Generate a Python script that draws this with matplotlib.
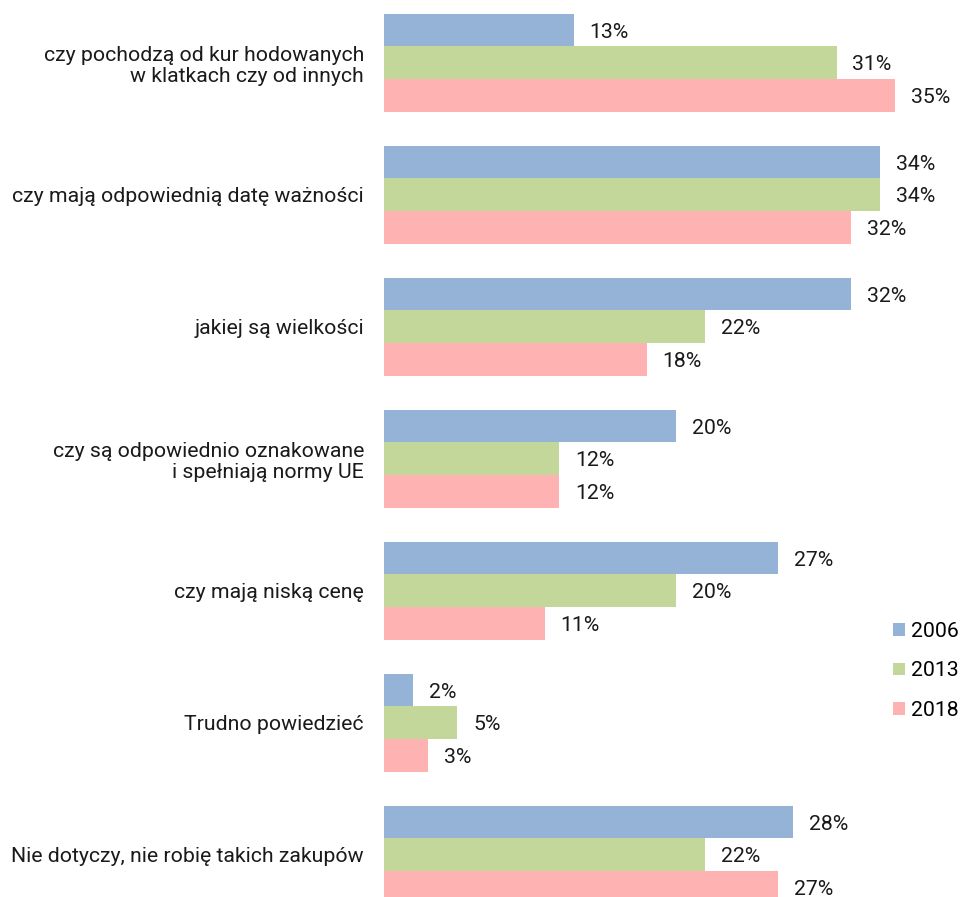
import matplotlib.pyplot as plt
import numpy as np

plt.rcParams['font.family'] = ['Roboto', 'DejaVu Sans']

categories = [
    "czy pochodzą od kur hodowanych\nw klatkach czy od innych",
    "czy mają odpowiednią datę ważności",
    "jakiej są wielkości",
    "czy są odpowiednio oznakowane\ni spełniają normy UE",
    "czy mają niską cenę",
    "Trudno powiedzieć",
    "Nie dotyczy, nie robię takich zakupów",
]
years = ["2006", "2013", "2018"]
v2006 = [13, 34, 32, 20, 27, 2, 28]
v2013 = [31, 34, 22, 12, 20, 5, 22]
v2018 = [35, 32, 18, 12, 11, 3, 27]
colors = ["#95B3D7", "#C4D79B", "#FFB2B2"]

fs = 15.3
fig = plt.figure(figsize=(9.6, 8.97), dpi=100)
# axes placed in pixels: left 384, top 10, bottom 897
ax = fig.add_axes([384 / 960, 0, 562 / 960, 887 / 897])

y = np.arange(len(categories))
h = 0.247
handles = []
for i, (vals, col) in enumerate(zip([v2006, v2013, v2018], colors)):
    pos = y + (i - 1) * h
    b = ax.barh(pos, vals, height=h, color=col, label=years[i])
    handles.append(b)
    for p, v in zip(pos, vals):
        ax.annotate(f"{v}%", (v, p), xytext=(11.5, -1.5), textcoords="offset points",
                    ha="left", va="center", fontsize=fs, color="#1a1a1a",
                    annotation_clip=False)

ax.set_xlim(0, 38.5)
ax.set_ylim(len(categories) - 1 + 0.32, -0.4)
ax.set_yticks(y)
ax.set_yticklabels(categories, fontsize=fs, color="#1a1a1a", linespacing=1.12)
ax.tick_params(axis="y", length=0, pad=14.4)
ax.set_xticks([])
for s in ax.spines.values():
    s.set_visible(False)

fig.legend(handles=handles, labels=years, loc="center left",
           bbox_to_anchor=(893 / 960, 1 - 671 / 897), frameon=False,
           fontsize=fs, handlelength=0.55, handleheight=0.55,
           handletextpad=0.3, labelspacing=0.97, borderpad=0, borderaxespad=0)

fig.savefig("out.png", dpi=100)
